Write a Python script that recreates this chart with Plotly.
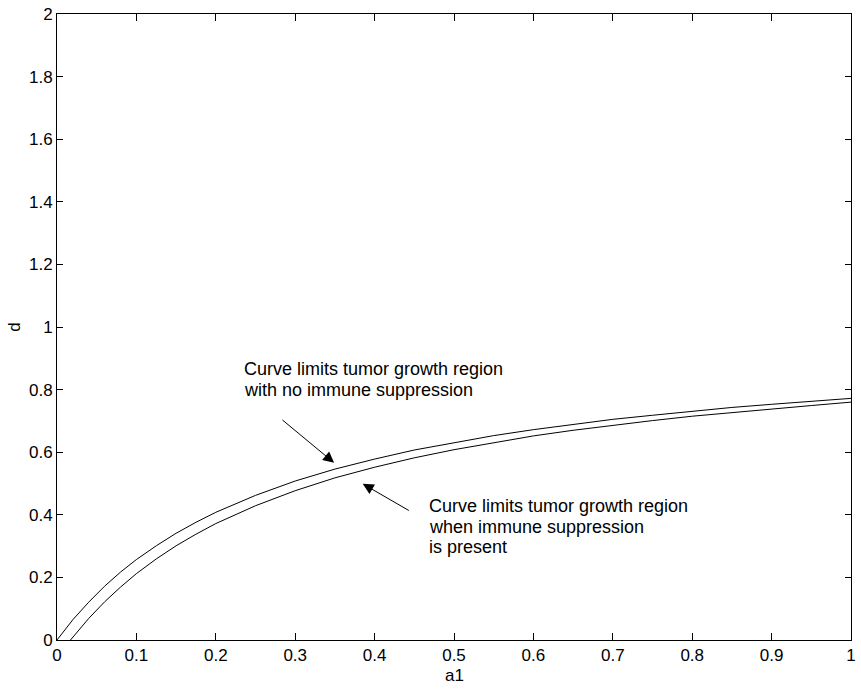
import plotly.graph_objects as go

# Upper curve: no immune suppression
a1_upper = [0.0, 0.01, 0.02, 0.04, 0.06, 0.08, 0.10, 0.125, 0.15, 0.175, 0.20,
            0.25, 0.30, 0.35, 0.40, 0.45, 0.50, 0.55, 0.60, 0.65, 0.70, 0.75,
            0.80, 0.85, 0.90, 0.95, 1.0]
d_upper = [0.0, 0.033, 0.065, 0.121, 0.172, 0.217, 0.257, 0.301, 0.341, 0.376, 0.408,
           0.462, 0.508, 0.546, 0.578, 0.607, 0.631, 0.653, 0.672, 0.689, 0.705, 0.718,
           0.731, 0.743, 0.753, 0.763, 0.772]

# Lower curve: immune suppression present
a1_lower = [0.017, 0.03, 0.04, 0.06, 0.08, 0.10, 0.125, 0.15, 0.175, 0.20,
            0.25, 0.30, 0.35, 0.40, 0.45, 0.50, 0.55, 0.60, 0.65, 0.70, 0.75,
            0.80, 0.85, 0.90, 0.95, 1.0]
d_lower = [0.0, 0.040, 0.069, 0.122, 0.169, 0.212, 0.259, 0.301, 0.338, 0.372,
           0.429, 0.477, 0.518, 0.552, 0.582, 0.608, 0.631, 0.652, 0.670, 0.686, 0.701,
           0.715, 0.727, 0.738, 0.749, 0.760]

x_ticks = [0, 0.1, 0.2, 0.3, 0.4, 0.5, 0.6, 0.7, 0.8, 0.9, 1]
x_tick_text = ["0", "0.1", "0.2", "0.3", "0.4", "0.5", "0.6", "0.7", "0.8", "0.9", "1"]
y_ticks = [0, 0.2, 0.4, 0.6, 0.8, 1, 1.2, 1.4, 1.6, 1.8, 2]
y_tick_text = ["0", "0.2", "0.4", "0.6", "0.8", "1", "1.2", "1.4", "1.6", "1.8", "2"]

label_no_supp = ["Curve limits tumor growth region", "with no immune suppression"]
label_supp = ["Curve limits tumor growth region", "when immune suppression", "is present"]
x_title = "a1"
y_title = "d"

FONT = "Liberation Sans, Arial, Helvetica, sans-serif"
LINE_STEP = 0.066  # line spacing in data units of d

fig = go.Figure()
fig.add_trace(go.Scatter(x=a1_upper, y=d_upper, mode="lines",
                         line=dict(color="black", width=1), showlegend=False,
                         hoverinfo="skip"))
fig.add_trace(go.Scatter(x=a1_lower, y=d_lower, mode="lines",
                         line=dict(color="black", width=1), showlegend=False,
                         hoverinfo="skip"))

for i, line in enumerate(label_no_supp):
    fig.add_annotation(x=0.2325, y=0.865 - i * LINE_STEP, xref="x", yref="y", text=line,
                       showarrow=False, xanchor="left", yanchor="middle", align="left",
                       font=dict(size=18, color="black", family=FONT))
for i, line in enumerate(label_supp):
    fig.add_annotation(x=0.466, y=0.428 - i * LINE_STEP, xref="x", yref="y", text=line,
                       showarrow=False, xanchor="left", yanchor="middle", align="left",
                       font=dict(size=18, color="black", family=FONT))

# Arrows
fig.add_annotation(x=0.349, y=0.566, ax=0.282, ay=0.707, xref="x", yref="y",
                   axref="x", ayref="y", text="", showarrow=True,
                   arrowhead=2, arrowsize=2.2, arrowwidth=1, arrowcolor="black")
fig.add_annotation(x=0.385, y=0.499, ax=0.445, ay=0.411, xref="x", yref="y",
                   axref="x", ayref="y", text="", showarrow=True,
                   arrowhead=2, arrowsize=2.2, arrowwidth=1, arrowcolor="black")

# x-axis title placed just below the tick labels
fig.add_annotation(x=0.5, y=-0.057, xref="paper", yref="paper", text=x_title,
                   showarrow=False, xanchor="center", yanchor="middle",
                   font=dict(size=17, color="black", family=FONT))

axis_common = dict(showgrid=False, zeroline=False, showline=True, linecolor="black",
                   linewidth=1, mirror="ticks", ticks="inside", tickcolor="black",
                   tickfont=dict(size=17, color="black", family=FONT))

fig.update_layout(
    width=861, height=689,
    margin=dict(l=57, r=5, t=10, b=49),
    paper_bgcolor="white", plot_bgcolor="white",
    font=dict(family=FONT, color="black"),
    hovermode=False,
    xaxis=dict(range=[0, 1], tickvals=x_ticks, ticktext=x_tick_text, ticklen=7,
               **axis_common),
    yaxis=dict(range=[0, 2], tickvals=y_ticks, ticktext=y_tick_text, ticklen=6,
               title=dict(text=y_title, font=dict(size=17, color="black"), standoff=4),
               **axis_common),
)

fig.write_html("out.html",
               config={"displayModeBar": False, "staticPlot": True},
               post_script="document.body.style.margin='0px';"
                           "document.body.style.overflow='hidden';")
